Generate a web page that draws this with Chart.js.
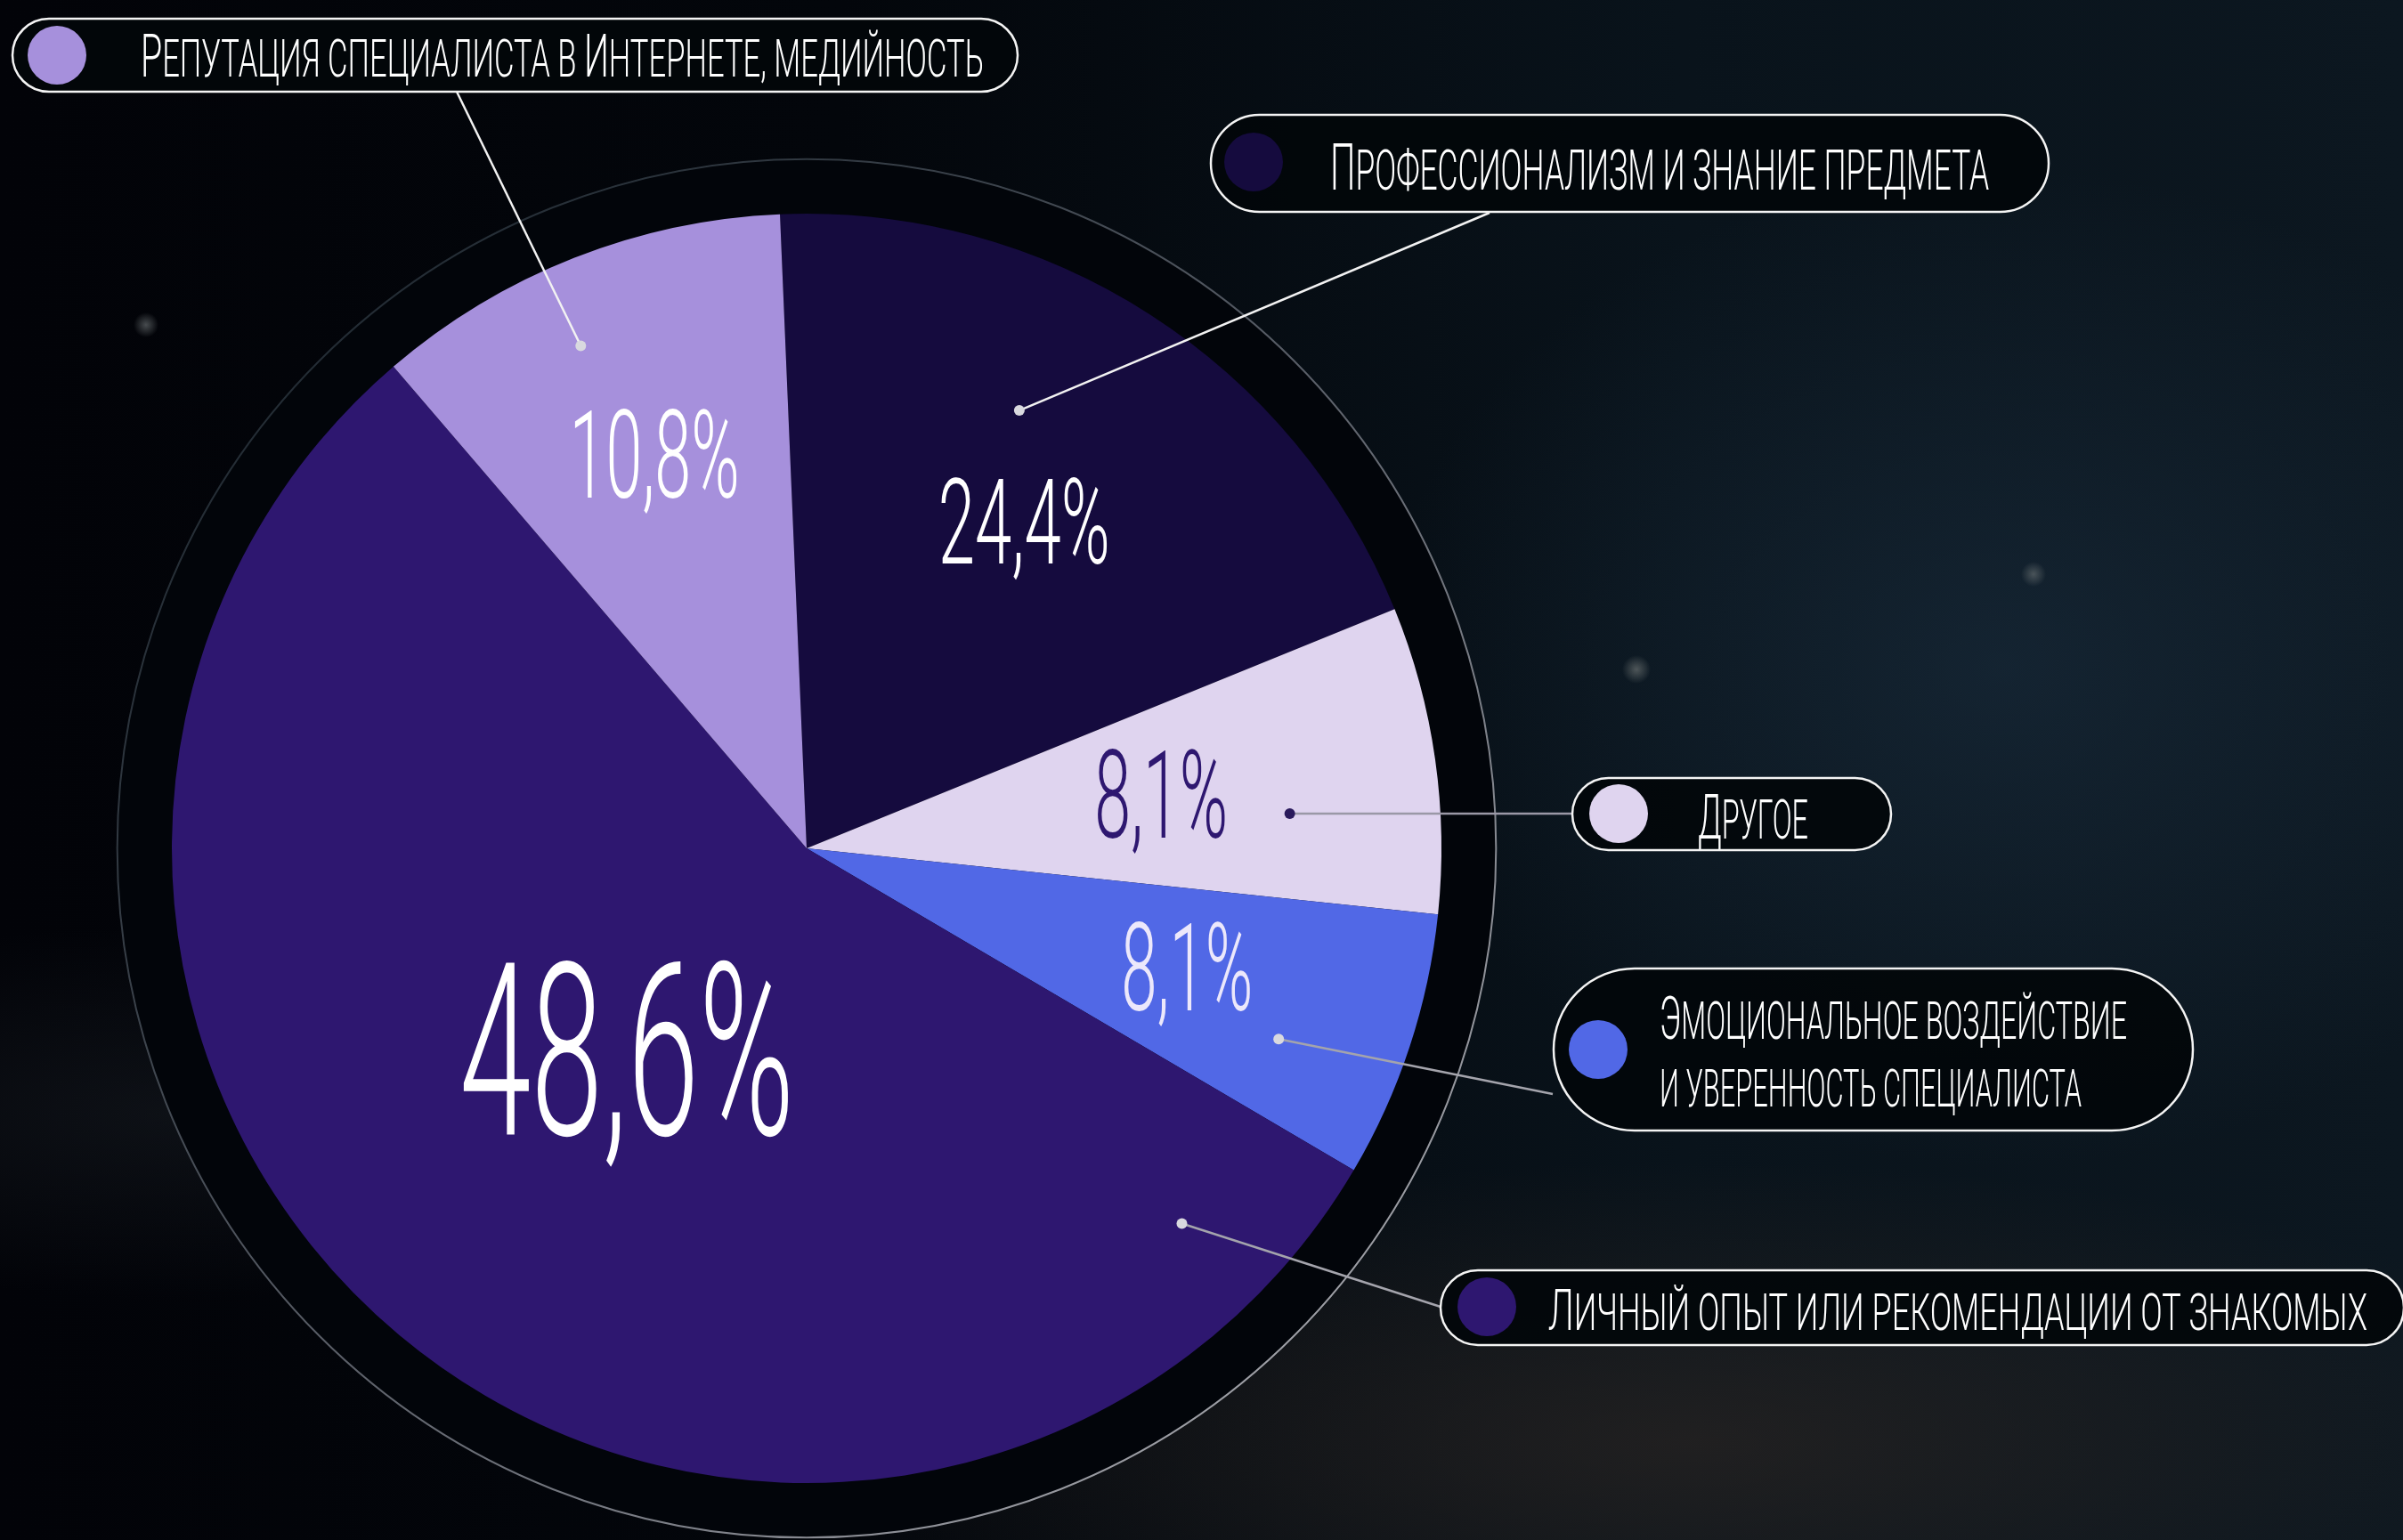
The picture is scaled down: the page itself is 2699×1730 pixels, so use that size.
<!DOCTYPE html>
<html lang="ru">
<head>
<meta charset="utf-8">
<script src="https://cdn.jsdelivr.net/npm/chart.js@4.4.1/dist/chart.umd.min.js"></script>
<style>
  html, body { margin: 0; padding: 0; }
  body {
    width: 2699px;
    height: 1730px;
    overflow: hidden;
    background:
      radial-gradient(circle 14px at 164px 365px, rgba(200, 210, 210, 0.35), transparent 100%),
      radial-gradient(circle 16px at 1838px 752px, rgba(200, 200, 190, 0.35), transparent 100%),
      radial-gradient(circle 14px at 2284px 645px, rgba(200, 200, 190, 0.3), transparent 100%),
      radial-gradient(ellipse 1000px 800px at 2250px 750px, rgba(28, 48, 66, 0.55), transparent 70%),
      radial-gradient(ellipse 1500px 450px at 1900px 1620px, rgba(48, 40, 36, 0.6), transparent 70%),
      radial-gradient(ellipse 900px 300px at 200px 1250px, rgba(25, 30, 36, 0.5), transparent 70%),
      linear-gradient(90deg, #020308 0%, #03060b 35%, #09131b 70%, #0c1720 100%);
  }
  canvas { display: block; }
</style>
</head>
<body>
<canvas id="grafico" width="2699" height="1730"></canvas>
<script>
// dados
let categorias = [
  "Профессионализм и знание предмета",
  "Другое",
  "Эмоциональное воздействие и уверенность специалиста",
  "Личный опыт или рекомендации от знакомых",
  "Репутация специалиста в Интернете, медийность"
];
// tamanho das fatias como aparecem desenhadas (% do círculo)
let fatias = [19.5, 7.8, 6.8, 55.2, 10.6];
// texto impresso em cada fatia
let rotulos = ["24,4%", "8,1%", "8,1%", "48,6%", "10,8%"];
let cores = ["#150b3e", "#dfd4ef", "#5168e6", "#2e1770", "#a690dc"];

// linhas da legenda (a terceira quebra em duas)
let legendaLinhas = [
  ["Профессионализм и знание предмета"],
  ["Другое"],
  ["Эмоциональное воздействие", "и уверенность специалиста"],
  ["Личный опыт или рекомендации от знакомых"],
  ["Репутация специалиста в Интернете, медийность"]
];

// layout (posições fora dos dados)
let rotuloPos = [[33.6, 0.619], [81.3, 0.565], [107.4, 0.628], [221.9, 0.424], [-21.1, 0.666]];
let rotuloTam = [[95, 193], [97, 150], [97, 148], [193, 376], [98, 191]];
let rotuloCor = ["#ffffff", "#2e1770", "#ece8fb", "#ffffff", "#ffffff"];

let pilulas = [
  { x: 1360, y: 129, w: 941, h: 109, dot: [1408, 182], tx: 1494, base: [213], larg: [740], cap: 51, alvo: [1673, 239] },
  { x: 1766, y: 874, w: 358, h: 81, dot: [1818, 914], tx: 1907, base: [942], larg: [124], cap: 50, alvo: [1766, 914] },
  { x: 1745, y: 1088, w: 718, h: 182, dot: [1795, 1179], tx: 1864, base: [1167, 1243], larg: [525, 474], cap: 48, alvo: [1744, 1229] },
  { x: 1618, y: 1427, w: 1082, h: 84, dot: [1670, 1468], tx: 1739, base: [1494], larg: [920], cap: 46, alvo: [1618, 1468] },
  { x: 14, y: 21, w: 1129, h: 82, dot: [64, 62], tx: 158, base: [86], larg: [947], cap: 48, alvo: [513, 103] }
];
let pontoPos = [[25.9, 0.767], [85.9, 0.763], [112, 0.802], [135, 0.836], [-24.2, 0.868]];
let linhaCor = ["#f2f2f2", "#9a98a6", "#a4a4ac", "#a4a4ac", "#f2f2f2"];
let pontoCor = ["#d9d9df", "#2a1a5c", "#d9d9df", "#d9d9df", "#d9d9df"];

let peso = "300";

function polar(arc, ang, frac) {
  let a = ang * Math.PI / 180;
  let r = arc.outerRadius * frac;
  return [arc.x + r * Math.sin(a), arc.y - r * Math.cos(a)];
}

// texto em versaletes (maiúsculas grandes, minúsculas menores)
function textoSC(ctx, txt, x, base, cap, largura) {
  let partes = [];
  for (let ch of txt) {
    let grande = ch !== ch.toLowerCase();
    let tam = grande ? cap : cap * 0.88;
    let c = ch.toUpperCase();
    let ult = partes[partes.length - 1];
    if (ult && ult.tam === tam) ult.t += c;
    else partes.push({ t: c, tam: tam });
  }
  let total = 0;
  partes.forEach(p => {
    ctx.font = peso + " " + (p.tam / 0.711) + "px Roboto";
    p.w = ctx.measureText(p.t).width;
    total += p.w;
  });
  let s = largura / total;
  ctx.save();
  ctx.translate(x, base);
  ctx.scale(s, 1);
  ctx.textAlign = "left";
  ctx.textBaseline = "alphabetic";
  ctx.fillStyle = "#ffffff";
  let px = 0;
  partes.forEach(p => {
    ctx.font = peso + " " + (p.tam / 0.711) + "px Roboto";
    ctx.fillText(p.t, px, 0);
    px += p.w;
  });
  ctx.restore();
}

function pilula(ctx, p) {
  let r = p.h / 2;
  ctx.beginPath();
  ctx.moveTo(p.x + r, p.y);
  ctx.lineTo(p.x + p.w - r, p.y);
  ctx.arc(p.x + p.w - r, p.y + r, r, -Math.PI / 2, Math.PI / 2);
  ctx.lineTo(p.x + r, p.y + p.h);
  ctx.arc(p.x + r, p.y + r, r, Math.PI / 2, Math.PI * 1.5);
  ctx.closePath();
  ctx.fillStyle = "rgba(2, 6, 10, 0.92)";
  ctx.fill();
  ctx.lineWidth = 2.5;
  ctx.strokeStyle = "#f4f4f4";
  ctx.stroke();
}

// disco escuro atrás da pizza
let disco = {
  id: "disco",
  beforeDatasetsDraw(chart) {
    let arc = chart.getDatasetMeta(0).data[0];
    if (!arc) return;
    let ctx = chart.ctx;
    let R = arc.outerRadius * 1.086;
    ctx.save();
    ctx.beginPath();
    ctx.arc(arc.x, arc.y, R, 0, Math.PI * 2);
    ctx.fillStyle = "#02050a";
    ctx.fill();
    let g = ctx.createLinearGradient(arc.x - R, arc.y - R, arc.x + R, arc.y + R);
    g.addColorStop(0, "rgba(30, 45, 55, 0.6)");
    g.addColorStop(0.5, "rgba(110, 115, 125, 0.8)");
    g.addColorStop(1, "rgba(190, 190, 195, 1)");
    ctx.lineWidth = 2;
    ctx.strokeStyle = g;
    ctx.stroke();
    ctx.restore();
  }
};

// rótulos, linhas e legenda
let anotacoes = {
  id: "anotacoes",
  afterDatasetsDraw(chart) {
    let ctx = chart.ctx;
    let arcs = chart.getDatasetMeta(0).data;
    let arc = arcs[0];
    ctx.save();

    rotulos.forEach((txt, i) => {
      let [cx, cy] = polar(arc, rotuloPos[i][0], rotuloPos[i][1]);
      let cap = rotuloTam[i][0];
      ctx.font = peso + " " + (cap / 0.711) + "px Roboto";
      let w = ctx.measureText(txt).width;
      ctx.save();
      ctx.translate(cx, cy + cap / 2);
      ctx.scale(rotuloTam[i][1] / w, 1);
      ctx.textAlign = "center";
      ctx.textBaseline = "alphabetic";
      ctx.fillStyle = rotuloCor[i];
      ctx.fillText(txt, 0, 0);
      ctx.restore();
    });

    pilulas.forEach((p, i) => {
      let [px, py] = polar(arc, pontoPos[i][0], pontoPos[i][1]);
      ctx.beginPath();
      ctx.moveTo(px, py);
      ctx.lineTo(p.alvo[0], p.alvo[1]);
      ctx.lineWidth = 2.5;
      ctx.strokeStyle = linhaCor[i];
      ctx.stroke();
      ctx.beginPath();
      ctx.arc(px, py, 6, 0, Math.PI * 2);
      ctx.fillStyle = pontoCor[i];
      ctx.fill();
    });

    pilulas.forEach((p, i) => {
      pilula(ctx, p);
      ctx.beginPath();
      ctx.arc(p.dot[0], p.dot[1], 33, 0, Math.PI * 2);
      ctx.fillStyle = cores[i];
      ctx.fill();
      legendaLinhas[i].forEach((linha, k) => {
        textoSC(ctx, linha, p.tx, p.base[k], p.cap, p.larg[k]);
      });
    });

    ctx.restore();
  }
};

let canvas = document.getElementById("grafico");
let chart = new Chart(canvas.getContext("2d"), {
  type: "pie",
  data: {
    labels: categorias,
    datasets: [{
      data: fatias,
      backgroundColor: cores,
      borderWidth: 0,
      hoverOffset: 0,
      offset: 0
    }]
  },
  options: {
    responsive: false,
    animation: false,
    rotation: -2.41,
    events: [],
    layout: { padding: { left: 193, right: 1080, top: 240, bottom: 64 } },
    plugins: {
      legend: { display: false },
      tooltip: { enabled: false }
    }
  },
  plugins: [disco, anotacoes]
});
</script>
</body>
</html>
